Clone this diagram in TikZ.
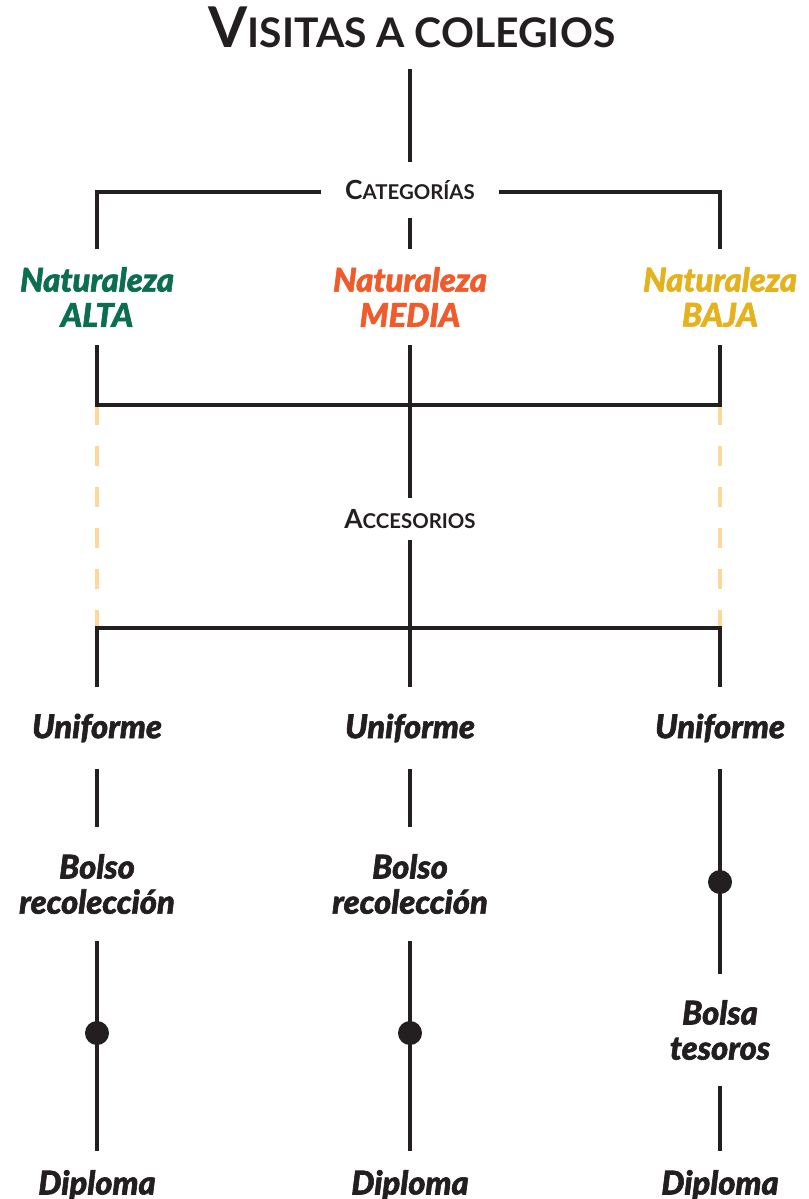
\documentclass[tikz,border=0pt]{standalone}
\usepackage{fontspec}
\setmainfont{Lato}
\newfontfamily\heavyfont{Lato Black Italic}[FakeBold=1.8]
\definecolor{ink}{HTML}{231F20}
\definecolor{altagreen}{HTML}{0B6E4F}
\definecolor{mediaorange}{HTML}{F15A2B}
\definecolor{bajayellow}{HTML}{E5B21F}
\definecolor{dashpeach}{HTML}{FDD89B}
% fake small caps: big first letter, rest smaller
\newcommand{\fakesc}[4]{{\fontsize{#1}{#1}\selectfont #3}{\fontsize{#2}{#2}\selectfont #4}}
\tikzset{
  link/.style={draw=ink,line width=1.35pt},
  hdr/.style={text=ink,font=\bfseries,inner sep=0pt},
  lbl/.style={text=ink,font=\heavyfont\fontsize{9.3}{10}\selectfont,align=center,inner sep=0pt},
  dot/.style={circle,fill=ink,inner sep=0pt,minimum size=0.24cm},
}
\begin{document}
\begin{tikzpicture}[x=0.01cm,y=-0.01cm]
      \useasboundingbox (0,0) rectangle (808,1199);
      % header
      \node[hdr,minimum height=0.82cm] (title) at (412,27) {\fakesc{16}{11.6}{V}{ISITAS A COLEGIOS}};
      \node[hdr,minimum width=1.77cm,minimum height=0.55cm] (cat) at (410,190) {\fakesc{7.5}{5.8}{C}{ATEGORÍAS}};
      \draw[link] (title.south -| cat.north) -- (cat.north);
      % categories
      \node[lbl,text=altagreen,minimum height=0.95cm] (natA) at (97,297) {Naturaleza\\ALTA};
      \node[lbl,text=mediaorange,minimum height=0.95cm] (natM) at (410,297) {Naturaleza\\MEDIA};
      \node[lbl,text=bajayellow,minimum height=0.95cm] (natB) at (720,297) {Naturaleza\\BAJA};
      \coordinate (catL) at (97,192);
      \coordinate (catR) at (720,192);
      \draw[link] (cat.west |- catL) -- (catL) -- (natA.north);
      \draw[link] (cat.east |- catR) -- (catR) -- (natB.north);
      \draw[link] (cat.south) -- (natM.north);
      % accessories
      \node[hdr,minimum height=0.4cm] (acc) at (410,519) {\fakesc{7.5}{5.8}{A}{CCESORIOS}};
      \coordinate (topL) at (97,405);
      \coordinate (topR) at (720,405);
      \coordinate (botL) at (97,628);
      \coordinate (botR) at (720,628);
      \draw[dashpeach,line width=1.4pt,dash pattern=on 0.2cm off 0.21cm] (topL) -- (botL);
      \draw[dashpeach,line width=1.4pt,dash pattern=on 0.2cm off 0.21cm] (topR) -- (botR);
      \draw[link] (natA.south) -- (topL) -- (topR) -- (natB.south);
      \draw[link] (natM.south) -- (acc.north);
      % uniforms
      \node[lbl,minimum height=0.8cm] (uniA) at (97,728) {Uniforme};
      \node[lbl,minimum height=0.8cm] (uniM) at (410,728) {Uniforme};
      \node[lbl,minimum height=0.8cm] (uniB) at (720,728) {Uniforme};
      \draw[link] (uniA.north) -- (botL) -- (botR) -- (uniB.north);
      \draw[link] (acc.south) -- (uniM.north);
      % bags
      \node[lbl,minimum height=1.12cm] (bolA) at (97,884) {Bolso\\recolección};
      \node[lbl,minimum height=1.12cm] (bolM) at (410,884) {Bolso\\recolección};
      \node[lbl,minimum height=1.1cm] (bolB) at (720,1030) {Bolsa\\tesoros};
      \draw[link] (uniA.south) -- (bolA.north);
      \draw[link] (uniM.south) -- (bolM.north);
      \draw[link] (uniB.south) -- (bolB.north);
      % diplomas
      \node[lbl,minimum height=0.66cm] (dipA) at (97,1185) {Diploma};
      \node[lbl,minimum height=0.66cm] (dipM) at (410,1185) {Diploma};
      \node[lbl,minimum height=0.66cm] (dipB) at (720,1185) {Diploma};
      \draw[link] (bolA.south) -- (dipA.north);
      \draw[link] (bolM.south) -- (dipM.north);
      \draw[link] (bolB.south) -- (dipB.north);
      \node[dot] (dotA) at (97,1033) {};
      \node[dot] (dotM) at (410,1033) {};
      \node[dot] (dotB) at (720,882) {};
    \end{tikzpicture}
\end{document}
